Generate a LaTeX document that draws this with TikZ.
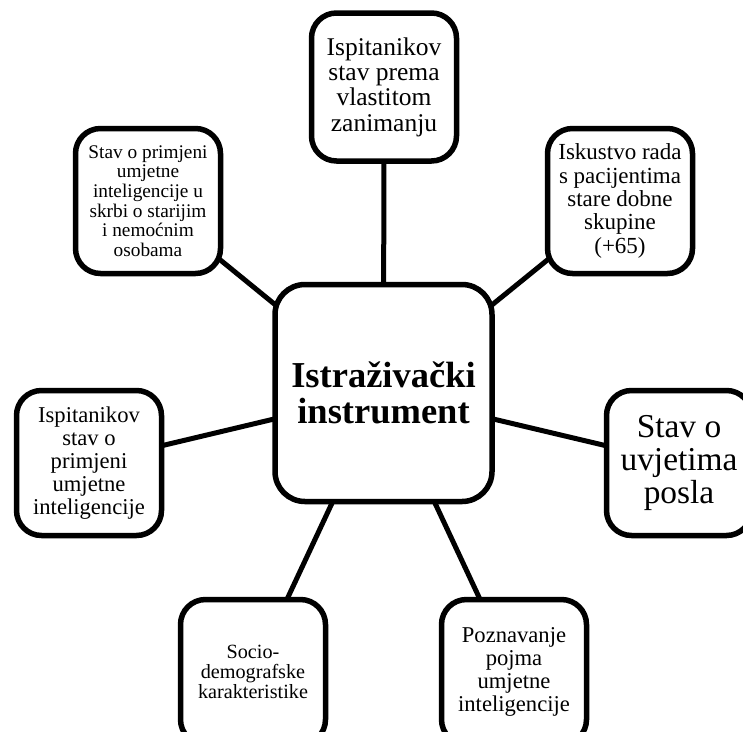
\documentclass[tikz,border=0pt]{standalone}
\usepackage{fontspec}
\setmainfont{Liberation Serif}
\usetikzlibrary{backgrounds}
\begin{document}
\begin{tikzpicture}[x=1pt,y=-1pt,
  box/.style={draw, line width=5.5pt, fill=white, rounded corners=25pt,
    minimum width=145pt, minimum height=145pt, align=center, inner sep=0pt},
  hubbox/.style={box, rounded corners=30pt, minimum width=217pt, minimum height=217pt},
  link/.style={line width=5pt}]
\useasboundingbox (0,0) rectangle (743,731);
\node[hubbox, font=\bfseries\fontsize{36.5}{36}\selectfont] (hub) at (383.5,393) {Istraživački\\instrument};
\node[box, minimum height=148pt, font=\fontsize{25.5}{25.3}\selectfont] (top) at (384,87) {Ispitanikov\\stav prema\\vlastitom\\zanimanju};
\node[box, font=\fontsize{19.3}{19.7}\selectfont] (tl) at (148,201) {Stav o primjeni\\umjetne\\inteligencije u\\skrbi o starijim\\i nemoćnim\\osobama};
\node[box, font=\fontsize{23}{23.3}\selectfont] (tr) at (620,201) {Iskustvo rada\\s pacijentima\\stare dobne\\skupine\\(+65)};
\node[box, font=\fontsize{22.6}{23}\selectfont] (lf) at (89,463) {Ispitanikov\\stav o\\primjeni\\umjetne\\inteligencije};
\node[box, font=\fontsize{33.4}{33}\selectfont] (rt) at (679,463) {Stav o\\uvjetima\\posla};
\node[box, font=\fontsize{20.2}{20}\selectfont] (bl) at (253,672) {Socio-\\demografske\\karakteristike};
\node[box, font=\fontsize{22.6}{23}\selectfont] (br) at (514,672) {Poznavanje\\pojma\\umjetne\\inteligencije};
\begin{scope}[on background layer]
\draw[link] (hub.center) -- (top.center);
\draw[link] (hub.center) -- (tl.center);
\draw[link] (hub.center) -- (tr.center);
\draw[link] (hub.center) -- (lf.center);
\draw[link] (hub.center) -- (rt.center);
\draw[link] (hub.center) -- (bl.center);
\draw[link] (hub.center) -- (br.center);
\end{scope}
\end{tikzpicture}
\end{document}
